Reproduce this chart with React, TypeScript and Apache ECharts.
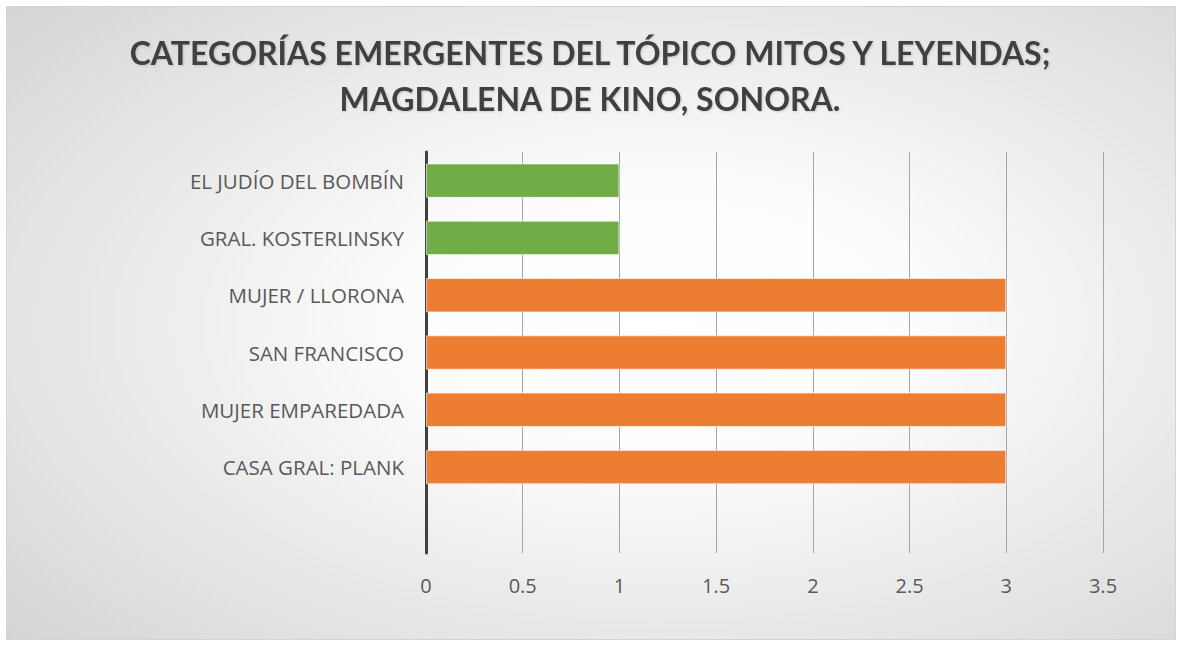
import React, { useEffect, useRef } from "react";
import * as echarts from "echarts";

const titleLines = [
  "CATEGORÍAS EMERGENTES DEL TÓPICO MITOS Y LEYENDAS;",
  "MAGDALENA DE KINO, SONORA.",
];
const categories = [
  "EL JUDÍO DEL BOMBÍN",
  "GRAL. KOSTERLINSKY",
  "MUJER / LLORONA",
  "SAN FRANCISCO",
  "MUJER EMPAREDADA",
  "CASA GRAL: PLANK",
  "",
];
const greenValues = [1, 1, null, null, null, null, null];
const orangeValues = [null, null, 3, 3, 3, 3, null];
const xMin = 0;
const xMax = 3.5;
const xInterval = 0.5;

export default function App() {
  const ref = useRef<HTMLDivElement>(null);
  useEffect(() => {
    if (!ref.current) return;
    const chart = echarts.init(ref.current, null, { renderer: "svg" });
    const titleFont = "Lato, 'Open Sans', sans-serif";
    const font = "'Open Sans', Lato, sans-serif";
    chart.setOption({
      animation: false,
      backgroundColor: "#ffffff",
      graphic: [
        {
          type: "rect",
          z: -100,
          silent: true,
          shape: { x: 6.5, y: 6.5, width: 1169, height: 633 },
          style: {
            fill: {
              type: "radial",
              x: 0.56,
              y: 0.5,
              r: 1.1,
              colorStops: [
                { offset: 0, color: "#ffffff" },
                { offset: 0.2, color: "#fcfcfc" },
                { offset: 1, color: "#bbbbbb" },
              ],
            },
            stroke: "#d4d4d4",
            lineWidth: 1,
          },
        },
      ],
      title: {
        text: titleLines.join("\n"),
        left: "center",
        top: 29,
        padding: 0,
        textStyle: {
          fontFamily: titleFont,
          fontWeight: "bold",
          fontSize: 32,
          lineHeight: 46,
          color: "#404040",
          textShadowColor: "rgba(0,0,0,0.15)",
          textShadowBlur: 2,
          textShadowOffsetX: 1,
          textShadowOffsetY: 1,
        },
      },
      grid: { left: 426, right: 77, top: 152, bottom: 93, containLabel: false },
      xAxis: {
        type: "value",
        min: xMin,
        max: xMax,
        interval: xInterval,
        axisLine: { show: false },
        axisTick: { show: false },
        axisLabel: {
          fontFamily: font,
          fontSize: 20,
          color: "#595959",
          margin: 22,
        },
        splitLine: { show: true, lineStyle: { color: "#a6a6a6", width: 1 } },
      },
      yAxis: {
        type: "category",
        data: categories,
        inverse: true,
        axisLine: { show: true, lineStyle: { color: "#404040", width: 3 } },
        axisTick: { show: false },
        axisLabel: {
          fontFamily: font,
          fontSize: 20.5,
          color: "#595959",
          margin: 22,
        },
        splitLine: { show: false },
      },
      series: [
        {
          type: "bar",
          stack: "s",
          data: greenValues,
          barCategoryGap: "40%",
          itemStyle: { color: "#70ad47", borderColor: "rgba(255,255,255,0.6)", borderWidth: 1 },
        },
        {
          type: "bar",
          stack: "s",
          data: orangeValues,
          barCategoryGap: "40%",
          itemStyle: { color: "#ed7d31", borderColor: "rgba(255,255,255,0.6)", borderWidth: 1 },
        },
      ],
    });
    return () => chart.dispose();
  }, []);
  return (
    <div
      ref={ref}
      style={{ position: "fixed", left: 0, top: 0, width: 1180, height: 646 }}
    />
  );
}
